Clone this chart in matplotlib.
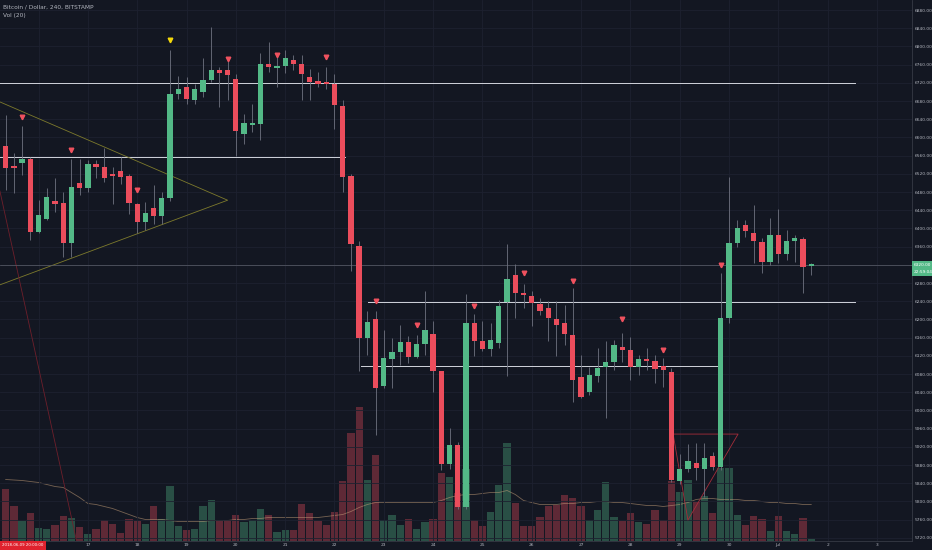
import numpy as np
import pandas as pd
import matplotlib
matplotlib.use("Agg")
import matplotlib.pyplot as plt

# 4h candles, BTC/USD Bitstamp, from 2018-06-15 08:00
opens = [6581, 6537, 6544, 6553, 6392, 6421, 6460, 6456, 6368, 6500,
         6489, 6542, 6535, 6520, 6526, 6515, 6454, 6414, 6445, 6427,
         6467, 6695, 6711, 6682, 6700, 6726, 6748, 6748, 6728, 6607,
         6627, 6629, 6762, 6753, 6757, 6771, 6762, 6733, 6724, 6722,
         6718, 6669, 6515, 6361, 6159, 6201, 6054, 6113, 6128, 6150,
         6117, 6146, 6168, 6087, 5883, 5925, 5788, 6192, 6153, 6135,
         6148, 6238, 6298, 6258, 6252, 6233, 6224, 6200, 6192, 6166,
         6073, 6041, 6076, 6096, 6106, 6140, 6133, 6095, 6112, 6109,
         6098, 6085, 5845, 5872, 5885, 5871, 5900, 5876, 6203, 6368,
         6407, 6390, 6370, 6326, 6385, 6344, 6372, 6377, 6318]
highs = [6649, 6566, 6625, 6557, 6462, 6489, 6511, 6480, 6553, 6553,
         6550, 6550, 6577, 6535, 6557, 6520, 6456, 6458, 6495, 6480,
         6792, 6735, 6733, 6717, 6774, 6843, 6755, 6770, 6739, 6651,
         6673, 6785, 6810, 6777, 6792, 6781, 6781, 6751, 6744, 6755,
         6740, 6682, 6520, 6372, 6218, 6218, 6177, 6159, 6188, 6163,
         6166, 6262, 6196, 6087, 5961, 5930, 6255, 6212, 6196, 6192,
         6243, 6366, 6322, 6278, 6262, 6247, 6240, 6240, 6232, 6269,
         6122, 6096, 6137, 6153, 6155, 6170, 6162, 6122, 6137, 6122,
         6115, 6093, 5905, 5927, 5928, 5928, 5909, 6302, 6513, 6418,
         6418, 6451, 6379, 6423, 6443, 6396, 6385, 6381, 6324]
lows = [6484, 6478, 6517, 6374, 6390, 6418, 6436, 6337, 6337, 6473,
        6480, 6511, 6502, 6454, 6498, 6432, 6390, 6396, 6410, 6410,
        6460, 6684, 6673, 6673, 6689, 6722, 6667, 6682, 6559, 6585,
        6612, 6594, 6744, 6711, 6742, 6748, 6682, 6682, 6711, 6707,
        6618, 6480, 6306, 6087, 6122, 5946, 6049, 6049, 6100, 6104,
        6115, 6122, 6040, 5869, 5871, 5783, 5783, 6120, 6131, 6120,
        6137, 6076, 6203, 6225, 6185, 6210, 6153, 6120, 6144, 6019,
        6027, 6034, 6063, 5983, 6089, 6107, 6067, 6078, 6089, 6060,
        6052, 5843, 5839, 5865, 5847, 5810, 5869, 5869, 6192, 6359,
        6381, 6324, 6302, 6320, 6324, 6330, 6326, 6258, 6298]
closes = [6533, 6533, 6553, 6392, 6429, 6469, 6454, 6368, 6491, 6489,
          6542, 6535, 6511, 6515, 6513, 6456, 6414, 6434, 6427, 6467,
          6695, 6706, 6684, 6706, 6726, 6748, 6742, 6737, 6614, 6632,
          6632, 6762, 6754, 6757, 6774, 6761, 6739, 6722, 6718, 6718,
          6671, 6513, 6366, 6159, 6194, 6049, 6115, 6128, 6150, 6117,
          6146, 6177, 6087, 5883, 5925, 5788, 6192, 6153, 6135, 6155,
          6230, 6289, 6257, 6254, 6235, 6219, 6203, 6188, 6169, 6067,
          6030, 6078, 6093, 6106, 6144, 6133, 6095, 6113, 6109, 6091,
          6089, 5847, 5872, 5889, 5873, 5895, 5876, 6203, 6369, 6401,
          6394, 6372, 6326, 6385, 6344, 6373, 6379, 6315, 6321]
volumes = [1050, 710, 410, 570, 270, 250, 330, 510, 470, 290,
           150, 250, 430, 350, 170, 450, 410, 350, 710, 450,
           1110, 300, 230, 250, 710, 830, 400, 420, 530, 380,
           420, 650, 530, 180, 230, 220, 750, 570, 400, 330,
           580, 1210, 2160, 2690, 1230, 1730, 430, 520, 330, 450,
           250, 390, 450, 1370, 1290, 970, 1450, 430, 300, 590,
           1130, 1960, 770, 300, 300, 480, 700, 730, 930, 870,
           700, 430, 620, 1190, 480, 400, 570, 380, 350, 630,
           430, 1210, 990, 1230, 780, 910, 560, 1470, 1470, 530,
           330, 500, 450, 210, 510, 210, 150, 460, 50]
vol_ma = [1230, 1220, 1210, 1190, 1170, 1130, 1090, 1070, 970, 870,
          750, 730, 690, 650, 590, 530, 470, 430, 430, 430,
          410, 390, 390, 390, 390, 410, 410, 410, 430, 430,
          450, 450, 470, 470, 470, 470, 470, 470, 470, 490,
          510, 530, 590, 670, 730, 770, 770, 770, 770, 770,
          770, 770, 770, 810, 870, 910, 930, 930, 950, 970,
          970, 1010, 930, 810, 770, 730, 730, 730, 750, 750,
          770, 770, 790, 790, 770, 770, 750, 730, 710, 710,
          690, 710, 730, 770, 830, 850, 850, 830, 830, 830,
          810, 810, 790, 770, 770, 750, 750, 730, 730]

# signal arrows (candle number, price)
sig_num = [3, 9, 17, 28, 34, 40, 46, 51, 58, 64, 70, 76, 81, 88]
sig_price = [6645, 6572, 6484, 6772, 6781, 6776, 6241, 6188, 6229, 6302,
             6284, 6201, 6133, 6320]
top_num, top_price = 21, 6814

# hand drawn levels: price, from candle, to candle
levels = [6720, 6557, 6238, 6097]
level_from = [-0.7, -0.7, 44.1, 43.2]
level_to = [103.3, 41.3, 103.3, 87.1]
wedge_x = [-0.7, 27.0, -0.7]
wedge_y = [6678, 6462, 6276]
diag_x = [-0.7, 8.6]
diag_y = [6482, 5715]
box_x = [81.2, 89.1, 83.0, 81.2]
box_y = [5948, 5948, 5759, 5948]

last_price = 6320
price_ticks = list(range(5720, 6881, 40))

BG = "#131722"
GRID = "#1d2130"
UP = "#53b987"
DOWN = "#eb4d5c"
TEXT = "#b2b5be"

opens = np.array(opens)
closes = np.array(closes)
n = len(opens)
x = np.arange(n)
xlim = (-0.69, 110.26)
times = pd.date_range("2018-06-15 08:00", periods=111, freq="4h")
up = closes >= opens
cols = [UP if u else DOWN for u in up]

fig = plt.figure(figsize=(9.32, 5.5), dpi=100, facecolor=BG)
rect = [0, 9 / 550, 912 / 932, 541 / 550]
axv = fig.add_axes(rect)
ax = fig.add_axes(rect)

# volume pane underneath
axv.set_facecolor(BG)
axv.bar(x, volumes, width=0.88, color=cols, alpha=0.35, linewidth=0)
axv.plot(x, vol_ma, color="#c8a17a", lw=0.6, alpha=0.55)
axv.set_xlim(xlim)
axv.set_ylim(0, 10820)
axv.axis("off")

# price pane
ax.set_facecolor("none")
day_idx = [i for i, t in enumerate(times) if t.hour == 0 and i <= xlim[1]]
day_lab = []
for i in day_idx:
    t = times[i]
    if i < 6:
        day_lab.append("")  # hidden under the cursor time tag
    elif t.day == 1:
        day_lab.append("Jul")
    else:
        day_lab.append(str(t.day))
ax.set_xticks(day_idx)
ax.set_xticklabels(day_lab)
ax.set_yticks(price_ticks)
# the 6320 label sits under the last price tag
ax.set_yticklabels(["" if v == last_price else f"{v:.2f}" for v in price_ticks])
ax.set_xlim(xlim)
ax.set_ylim(5713, 6902)
ax.yaxis.tick_right()
ax.grid(True, color=GRID, lw=0.6, zorder=0)
ax.set_axisbelow(True)
ax.tick_params(axis="both", length=0, labelsize=3.2, labelcolor=TEXT)
ax.tick_params(axis="y", pad=2)
ax.tick_params(axis="x", pad=1.5)
for s in ["top", "left"]:
    ax.spines[s].set_visible(False)
for s in ["right", "bottom"]:
    ax.spines[s].set_color("#363a45")
    ax.spines[s].set_linewidth(0.6)

# drawings
for p, a, b in zip(levels, level_from, level_to):
    ax.plot([a, b], [p, p], color="#d1d4dc", lw=0.7, zorder=2)
ax.plot(wedge_x, wedge_y, color="#7d7a2c", lw=0.6, zorder=2)
ax.plot(diag_x, diag_y, color="#6e1f2b", lw=0.6, zorder=2)
ax.plot(box_x, box_y, color="#a52d3a", lw=0.6, zorder=2)
ax.axhline(last_price, color="#5d606b", lw=0.5, zorder=2)

# candles
ax.vlines(x, lows, highs, color="#6f7280", lw=0.6, zorder=3)
body_lo = np.minimum(opens, closes)
body_h = np.maximum(np.abs(closes - opens), 2.5)
ax.bar(x, body_h, bottom=body_lo, width=0.64, color=cols, linewidth=0, zorder=4)

ax.plot(np.array(sig_num) - 1, sig_price, "v", color="#f0525f", ms=3.3,
        ls="none", zorder=5)
ax.plot([top_num - 1], [top_price], "v", color="#f5d90a", ms=3.3, zorder=5)
ax.set_xlim(xlim)
ax.set_ylim(5713, 6902)

# last price tags
yt = ax.get_yaxis_transform()
ax.text(1.002, last_price, f"{last_price:.2f}", transform=yt, fontsize=3.1,
        color="white", va="center", ha="left", zorder=6,
        bbox=dict(boxstyle="square,pad=0.5", fc=UP, ec="none"))
ax.text(1.002, last_price - 15, "22:59:04", transform=yt, fontsize=3.1,
        color="white", va="center", ha="left", zorder=6,
        bbox=dict(boxstyle="square,pad=0.5", fc=UP, ec="none"))

fig.text(3 / 932, 1 - 7 / 550, "Bitcoin / Dollar, 240, BITSTAMP",
         fontsize=4.2, color=TEXT, va="center")
fig.text(3 / 932, 1 - 15 / 550, "Vol (20)", fontsize=4.2, color=TEXT, va="center")
fig.text(1.5 / 932, 4.5 / 550, "2018-06-09 20:00:00", fontsize=2.8,
         color="white", va="center", zorder=10,
         bbox=dict(boxstyle="square,pad=0.7", fc="#e0222e", ec="none"))

fig.savefig("out.png", dpi=100, facecolor=BG)
